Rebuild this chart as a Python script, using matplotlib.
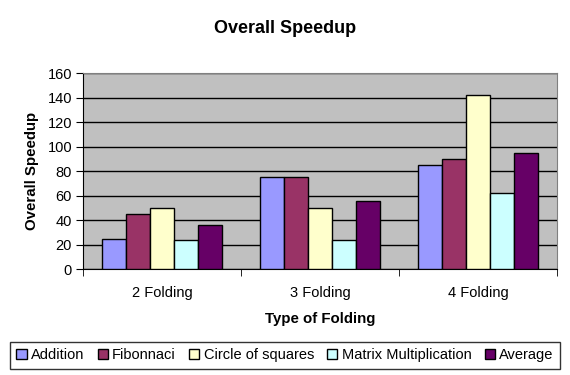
import matplotlib.pyplot as plt
import numpy as np

plt.rcParams['font.family'] = ['Liberation Sans', 'DejaVu Sans']

categories = ['2 Folding', '3 Folding', '4 Folding']
series_names = ['Addition', 'Fibonnaci', 'Circle of squares', 'Matrix Multiplication', 'Average']
addition = [25, 75, 85]
fibonnaci = [45, 75, 90]
circle = [50, 50, 142]
matrix = [24, 24, 62]
average = [36, 55.5, 94.5]
colors = ['#9999FF', '#993366', '#FFFFCC', '#CCFFFF', '#660066']

fig = plt.figure(figsize=(5.7, 3.75), dpi=100)
ax = fig.add_axes([0.146, 0.282, 0.831, 0.5227])
ax.set_facecolor('#C0C0C0')

x = np.arange(len(categories))
w = 0.152
all_vals = [addition, fibonnaci, circle, matrix, average]
for i, (vals, name, c) in enumerate(zip(all_vals, series_names, colors)):
    ax.bar(x + (i - 2) * w, vals, width=w, color=c, edgecolor='black',
           linewidth=1, label=name, zorder=3)

ax.set_xlim(-0.5, 2.5)
ax.set_ylim(0, 160)
ax.set_yticks(range(0, 161, 20))
ax.yaxis.grid(True, color='black', linewidth=1, zorder=0)
ax.set_xticks(x)
ax.set_xticklabels(categories, fontsize=10.5)
ax.set_xticks([-0.5, 0.5, 1.5, 2.5], minor=True)
ax.tick_params(axis='x', which='major', length=0, pad=12)
ax.tick_params(axis='x', which='minor', length=5, color='black')
ax.tick_params(axis='y', labelsize=10.5, length=5, pad=3)

for s in ['top', 'right']:
    ax.spines[s].set_color('#808080')
ax.spines['left'].set_color('black')
ax.spines['bottom'].set_color('black')

ax.set_ylabel('Overall Speedup', fontsize=10.8, fontweight='bold', labelpad=6)
ax.set_xlabel('Type of Folding', fontsize=10.8, fontweight='bold', labelpad=9)
fig.text(0.5, 0.925, 'Overall Speedup', ha='center', va='center',
         fontsize=13, fontweight='bold')

leg = fig.legend(loc='center', bbox_to_anchor=(0.5, 0.053), ncol=5, fontsize=10.5,
                 frameon=True, fancybox=False, edgecolor='black',
                 handlelength=0.7, handleheight=0.7, handletextpad=0.3,
                 columnspacing=0.9, borderpad=0.45)
leg.get_frame().set_linewidth(1)

fig.savefig('out.png', dpi=100)
